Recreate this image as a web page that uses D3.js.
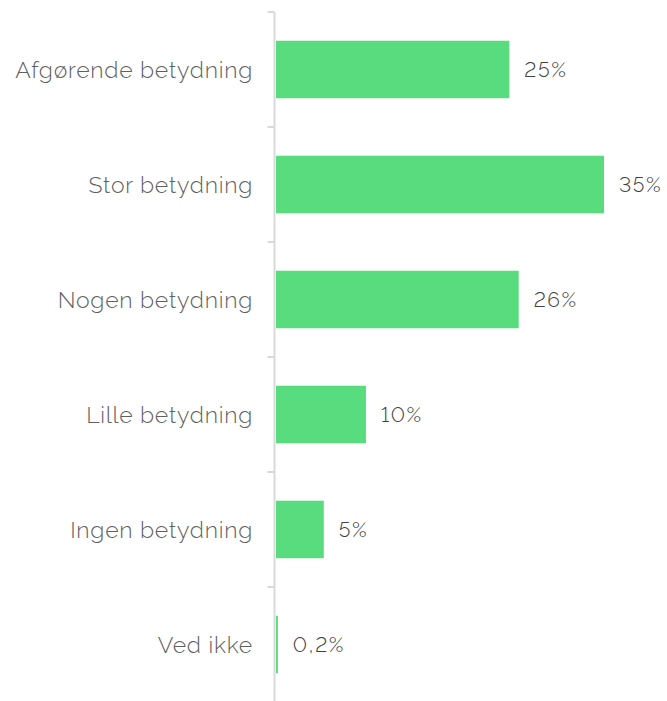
<!doctype html>
<html>
  <head>
    <meta charset="utf-8">
    <script src="https://d3js.org/d3.v7.min.js"></script>
    <style>
      body { margin: 0; background: #fff; }
      text { font-family: "Raleway", "Lato", "Open Sans", sans-serif; font-variant-numeric: lining-nums; font-weight: 300; }
    </style>
  </head>
  <body>
    <svg id="chart" width="667" height="701"></svg>
    <script>
      // categories and values
      var categories = ["Afgørende betydning", "Stor betydning", "Nogen betydning",
                        "Lille betydning", "Ingen betydning", "Ved ikke"];
      var values = [24.9, 35, 25.9, 9.6, 5.1, 0.2];
      var valueLabels = ["25%", "35%", "26%", "10%", "5%", "0,2%"];

      var data = categories.map(function(c, i) {
        return { cat: c, val: values[i], lbl: valueLabels[i] };
      });

      var svg = d3.select("#chart");

      var xScale = d3.scaleLinear().domain([0, 35]).range([276, 604]);
      var yScale = d3.scaleBand().domain(categories).range([12, 702])
        .paddingInner(0.5).paddingOuter(0.25);

      // y axis: grey line, small ticks on the left between bands
      var axisG = svg.append("g").attr("transform", "translate(274.5,0)");
      axisG.append("line")
        .attr("x1", 0).attr("x2", 0)
        .attr("y1", 12).attr("y2", 702)
        .attr("stroke", "#d9d9d9").attr("stroke-width", 2);
      var half = (yScale.step() - yScale.bandwidth()) / 2;
      var tickYs = categories.map(c => yScale(c) - half);
      tickYs.push(702);
      axisG.selectAll("line.tick")
        .data(tickYs)
        .enter()
        .append("line")
        .attr("class", "tick")
        .attr("x1", -7).attr("x2", 0)
        .attr("y1", d => d).attr("y2", d => d)
        .attr("stroke", "#d9d9d9").attr("stroke-width", 2);

      svg.selectAll("rect.bar")
        .data(data)
        .enter()
        .append("rect")
        .attr("class", "bar")
        .attr("x", xScale(0))
        .attr("y", d => yScale(d.cat))
        .attr("width", d => xScale(d.val) - xScale(0))
        .attr("height", yScale.bandwidth())
        .attr("fill", "#59dc7e");

      svg.selectAll("text.cat")
        .data(data)
        .enter()
        .append("text")
        .attr("class", "cat")
        .attr("x", 253)
        .attr("y", d => yScale(d.cat) + yScale.bandwidth() / 2)
        .attr("dy", "0.35em")
        .attr("text-anchor", "end")
        .attr("font-size", 23)
        .attr("letter-spacing", 0.75)
        .attr("fill", "#5f5f5f")
        .text(d => d.cat);

      svg.selectAll("text.val")
        .data(data)
        .enter()
        .append("text")
        .attr("class", "val")
        .attr("x", d => xScale(d.val) + 15)
        .attr("y", d => yScale(d.cat) + yScale.bandwidth() / 2)
        .attr("dy", "0.35em")
        .attr("font-size", 21)
        .attr("letter-spacing", 1.6)
        .attr("fill", "#404040")
        .text(d => d.lbl);
    </script>
  </body>
</html>
